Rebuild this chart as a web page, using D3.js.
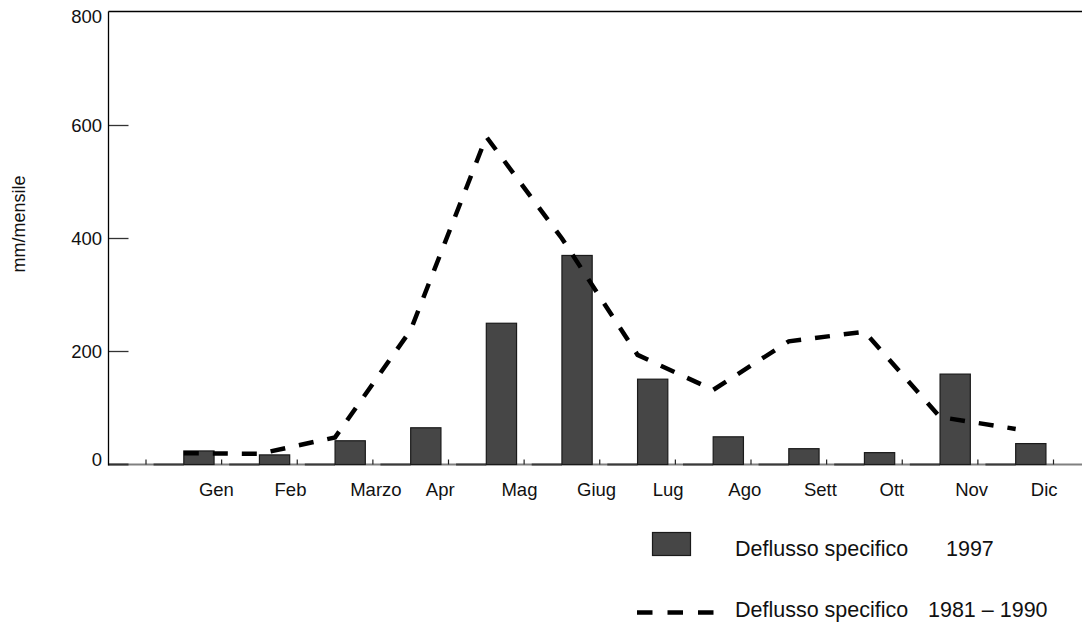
<!DOCTYPE html>
<html>
<head>
<meta charset="utf-8">
<script src="https://cdn.jsdelivr.net/npm/d3@7"></script>
<style>
  body{margin:0;background:#fff;}
  svg{display:block;font-family:"Liberation Sans",Arial,sans-serif;}
</style>
</head>
<body>
<svg width="1082" height="623"></svg>
<script>
var mesi=['Gen','Feb','Marzo','Apr','Mag','Giug','Lug','Ago','Sett','Ott','Nov','Dic'];
var deflusso1997=[24,17,42,65,250,370,151,49,28,21,160,37];
var deflussoMedio=[20,19,48,238,580,400,194,132,218,235,84,63];
var vuoto=[0,0,0,0,0,0,0,0,0,0,0,0];
var yTicks=[0,200,400,600,800];

var drawGraph=function(){
  let svg=d3.select('body').select('svg');
  let left=108.5, top=11.5, right=1082, base=464.5;

  let x=d3.scaleBand()
    .domain(mesi)
    .range([146,1053.5])
    .paddingInner(0)
    .paddingOuter(0);
  let sub=d3.scaleBand()
    .domain(['vuoto','1997'])
    .range([0,x.bandwidth()])
    .paddingInner(0)
    .paddingOuter(0.25);
  let y=d3.scaleLinear()
    .domain([0,800])
    .range([base,12.5]);

  let plot=svg.append('g').attr('id','plot');

  // frame: top and left line
  plot.append('line')
    .attr('x1',left).attr('x2',right)
    .attr('y1',top).attr('y2',top)
    .attr('stroke','#000').attr('stroke-width',1.3);

  // baseline
  plot.append('line')
    .attr('x1',left).attr('x2',right)
    .attr('y1',base).attr('y2',base)
    .attr('stroke','#808080').attr('stroke-width',2);

  // zero bars of the empty series, dark segments on the baseline
  plot.selectAll('line.vuoto')
    .data(vuoto)
    .enter().append('line')
    .attr('class','vuoto')
    .attr('x1',function(d,i){return x(mesi[i])+sub('vuoto');})
    .attr('x2',function(d,i){return x(mesi[i])+sub('vuoto')+sub.bandwidth();})
    .attr('y1',function(d){return y(d);})
    .attr('y2',function(d){return y(d);})
    .attr('stroke','#3a3a3a').attr('stroke-width',2);

  // y ticks
  plot.selectAll('line.ytick')
    .data(yTicks.filter(function(d){return d<800;}))
    .enter().append('line')
    .attr('class','ytick')
    .attr('x1',left).attr('x2',left+20)
    .attr('y1',function(d){return y(d);})
    .attr('y2',function(d){return y(d);})
    .attr('stroke','#333').attr('stroke-width',function(d){return d==0?2:1.3;});

  plot.selectAll('text.ylab')
    .data(yTicks)
    .enter().append('text')
    .attr('class','ylab')
    .attr('x',102)
    .attr('y',function(d){return Math.min(Math.max(y(d),17),459.5);})
    .attr('dy','0.35em')
    .attr('text-anchor','end')
    .attr('font-size',18.5)
    .attr('fill','#111')
    .text(function(d){return d;});

  plot.append('line')
    .attr('x1',left).attr('x2',left)
    .attr('y1',top).attr('y2',base+1)
    .attr('stroke','#000').attr('stroke-width',1.3);

  // x ticks at band edges
  let edges=[x.range()[0]].concat(mesi.map(function(m){return x(m)+x.bandwidth();}));
  plot.selectAll('line.xtick')
    .data(edges)
    .enter().append('line')
    .attr('class','xtick')
    .attr('x1',function(d){return d;}).attr('x2',function(d){return d;})
    .attr('y1',base-5).attr('y2',base)
    .attr('stroke','#222').attr('stroke-width',1.2);

  // bars 1997
  plot.selectAll('rect.bar')
    .data(deflusso1997)
    .enter().append('rect')
    .attr('class','bar')
    .attr('x',function(d,i){return x(mesi[i])+sub('1997');})
    .attr('width',sub.bandwidth())
    .attr('y',function(d){return y(d);})
    .attr('height',function(d){return base-y(d);})
    .attr('fill','#464646')
    .attr('stroke','#1a1a1a')
    .attr('stroke-width',1.2);

  // x labels, left aligned at bar centre
  plot.selectAll('text.xlab')
    .data(mesi)
    .enter().append('text')
    .attr('class','xlab')
    .attr('x',function(d){return x(d)+sub('1997')+sub.bandwidth()/2;})
    .attr('y',495.5)
    .attr('font-size',18.5)
    .attr('fill','#111')
    .text(function(d){return d;});

  // dashed line 1981-1990
  let line=d3.line()
    .x(function(d,i){return x(mesi[i])+x.bandwidth()/2;})
    .y(function(d){return y(d);});
  plot.append('path')
    .datum(deflussoMedio)
    .attr('d',line)
    .attr('fill','none')
    .attr('stroke','#000')
    .attr('stroke-width',4.5)
    .attr('stroke-dasharray','15,14')
    .attr('stroke-linejoin','miter');

  // y axis title
  svg.append('text')
    .attr('transform','translate(25,224)rotate(-90)')
    .attr('text-anchor','middle')
    .attr('font-size',18)
    .attr('fill','#111')
    .text('mm/mensile');

  // legend
  let legend=svg.append('g').attr('id','legend');
  legend.append('rect')
    .attr('x',652.5).attr('y',532.5)
    .attr('width',38).attr('height',23)
    .attr('fill','#464646').attr('stroke','#1a1a1a').attr('stroke-width',1.2);
  legend.append('text')
    .attr('x',735).attr('y',555.5)
    .attr('font-size',21.5).attr('fill','#111')
    .text('Deflusso specifico');
  legend.append('text')
    .attr('x',946).attr('y',555.5)
    .attr('font-size',21.5).attr('fill','#111')
    .text('1997');
  legend.append('line')
    .attr('x1',637).attr('x2',714)
    .attr('y1',612.5).attr('y2',612.5)
    .attr('stroke','#000').attr('stroke-width',4.5)
    .attr('stroke-dasharray','15.5,15');
  legend.append('text')
    .attr('x',735).attr('y',616.5)
    .attr('font-size',21.5).attr('fill','#111')
    .text('Deflusso specifico');
  legend.append('text')
    .attr('x',928).attr('y',616.5)
    .attr('font-size',21.5).attr('fill','#111')
    .text('1981 \u2013 1990');
};

drawGraph();
</script>
</body>
</html>
